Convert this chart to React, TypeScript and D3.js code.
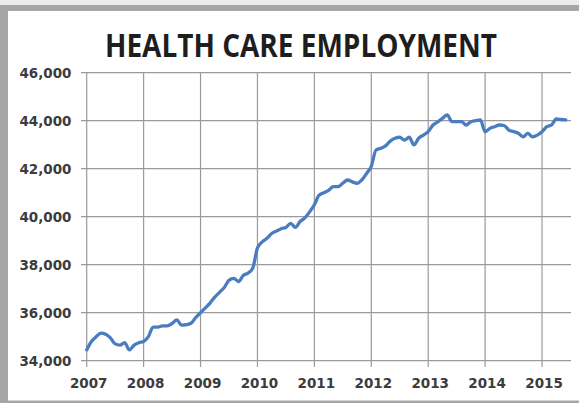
import React from "react";
import * as d3 from "d3";

const title = "HEALTH CARE EMPLOYMENT";
const yearTicks = [2007, 2008, 2009, 2010, 2011, 2012, 2013, 2014, 2015];
const valueTicks = [34000, 36000, 38000, 40000, 42000, 44000, 46000];
const startYear = 2007;

// Monthly values (thousands), Jan..Dec
const v2007 = [34450, 34800, 35000, 35150, 35100, 34950, 34700, 34650, 34750, 34450, 34650, 34750];
const v2008 = [34800, 35000, 35400, 35400, 35450, 35450, 35550, 35700, 35480, 35500, 35560, 35800];
const v2009 = [36000, 36200, 36400, 36650, 36850, 37050, 37350, 37430, 37300, 37550, 37650, 37850];
const v2010 = [38700, 38950, 39100, 39300, 39400, 39500, 39550, 39720, 39560, 39800, 39950, 40200];
const v2011 = [40500, 40900, 41000, 41100, 41250, 41250, 41400, 41530, 41450, 41390, 41530, 41800];
const v2012 = [42100, 42780, 42850, 42950, 43150, 43270, 43310, 43196, 43310, 42990, 43270, 43400];
const v2013 = [43540, 43820, 43950, 44100, 44240, 43960, 43960, 43960, 43820, 43960, 44000, 44030];
const v2014 = [43540, 43680, 43750, 43820, 43800, 43610, 43550, 43475, 43330, 43475, 43330, 43400];
const v2015 = [43540, 43750, 43820, 44070, 44050, 44030];

const series = [...v2007, ...v2008, ...v2009, ...v2010, ...v2011, ...v2012, ...v2013, ...v2014, ...v2015];

export default function App() {
  const W = 579;
  const H = 403;
  const x = d3.scaleLinear().domain([2007, 2015.5]).range([86.7, 570.5]);
  const y = d3.scaleLinear().domain([34000, 46000]).range([360.7, 72.7]);

  const pts: [number, number][] = series.map((v, i) => [startYear + i / 12, v]);
  const line = d3
    .line<[number, number]>()
    .x((d) => x(d[0]))
    .y((d) => y(d[1]))
    .curve(d3.curveMonotoneX);

  const fmt = d3.format(",");
  const labelFont = "'DejaVu Sans', sans-serif";

  return (
    <svg
      width={W}
      height={H}
      style={{ position: "absolute", left: 0, top: 0, display: "block" }}
    >
      <rect x={0} y={0} width={W} height={H} fill="#ffffff" />
      <rect x={0} y={0} width={W} height={5} fill="#ececec" />
      <rect x={0} y={5} width={W} height={6} fill="#a6a6a6" />
      <rect x={0} y={5} width={8} height={H - 5} fill="#a6a6a6" />
      <rect x={0} y={400.5} width={W} height={3} fill="#a6a6a6" />

      <text
        x={301}
        y={57}
        textAnchor="middle"
        fontFamily="'Open Sans', sans-serif"
        fontWeight="bold"
        fontSize={32}
        fill="#1e1e1e"
        textLength={392}
        lengthAdjust="spacingAndGlyphs"
      >
        {title}
      </text>

      {/* horizontal gridlines */}
      {valueTicks.map((t) => (
        <line
          key={"h" + t}
          x1={81}
          x2={571}
          y1={y(t)}
          y2={y(t)}
          stroke="#9a9a9a"
          strokeWidth={1.2}
        />
      ))}
      {/* vertical gridlines */}
      {yearTicks.map((t) => (
        <line
          key={"v" + t}
          x1={x(t)}
          x2={x(t)}
          y1={y(46000)}
          y2={367}
          stroke="#9a9a9a"
          strokeWidth={1.2}
        />
      ))}

      {valueTicks.map((t) => (
        <text
          key={"yl" + t}
          x={71.5}
          y={y(t) + 5}
          textAnchor="end"
          fontFamily={labelFont}
          fontWeight="bold"
          fontSize={13.5}
          fill="#3c3c3c"
        >
          {fmt(t)}
        </text>
      ))}
      {yearTicks.map((t) => (
        <text
          key={"xl" + t}
          x={x(t) + 2}
          y={388}
          textAnchor="middle"
          fontFamily={labelFont}
          fontWeight="bold"
          fontSize={13.5}
          fill="#3c3c3c"
        >
          {t}
        </text>
      ))}

      <path
        d={line(pts) || ""}
        fill="none"
        stroke="#4a7dbf"
        strokeWidth={3.3}
        strokeLinejoin="round"
        strokeLinecap="round"
      />
    </svg>
  );
}
